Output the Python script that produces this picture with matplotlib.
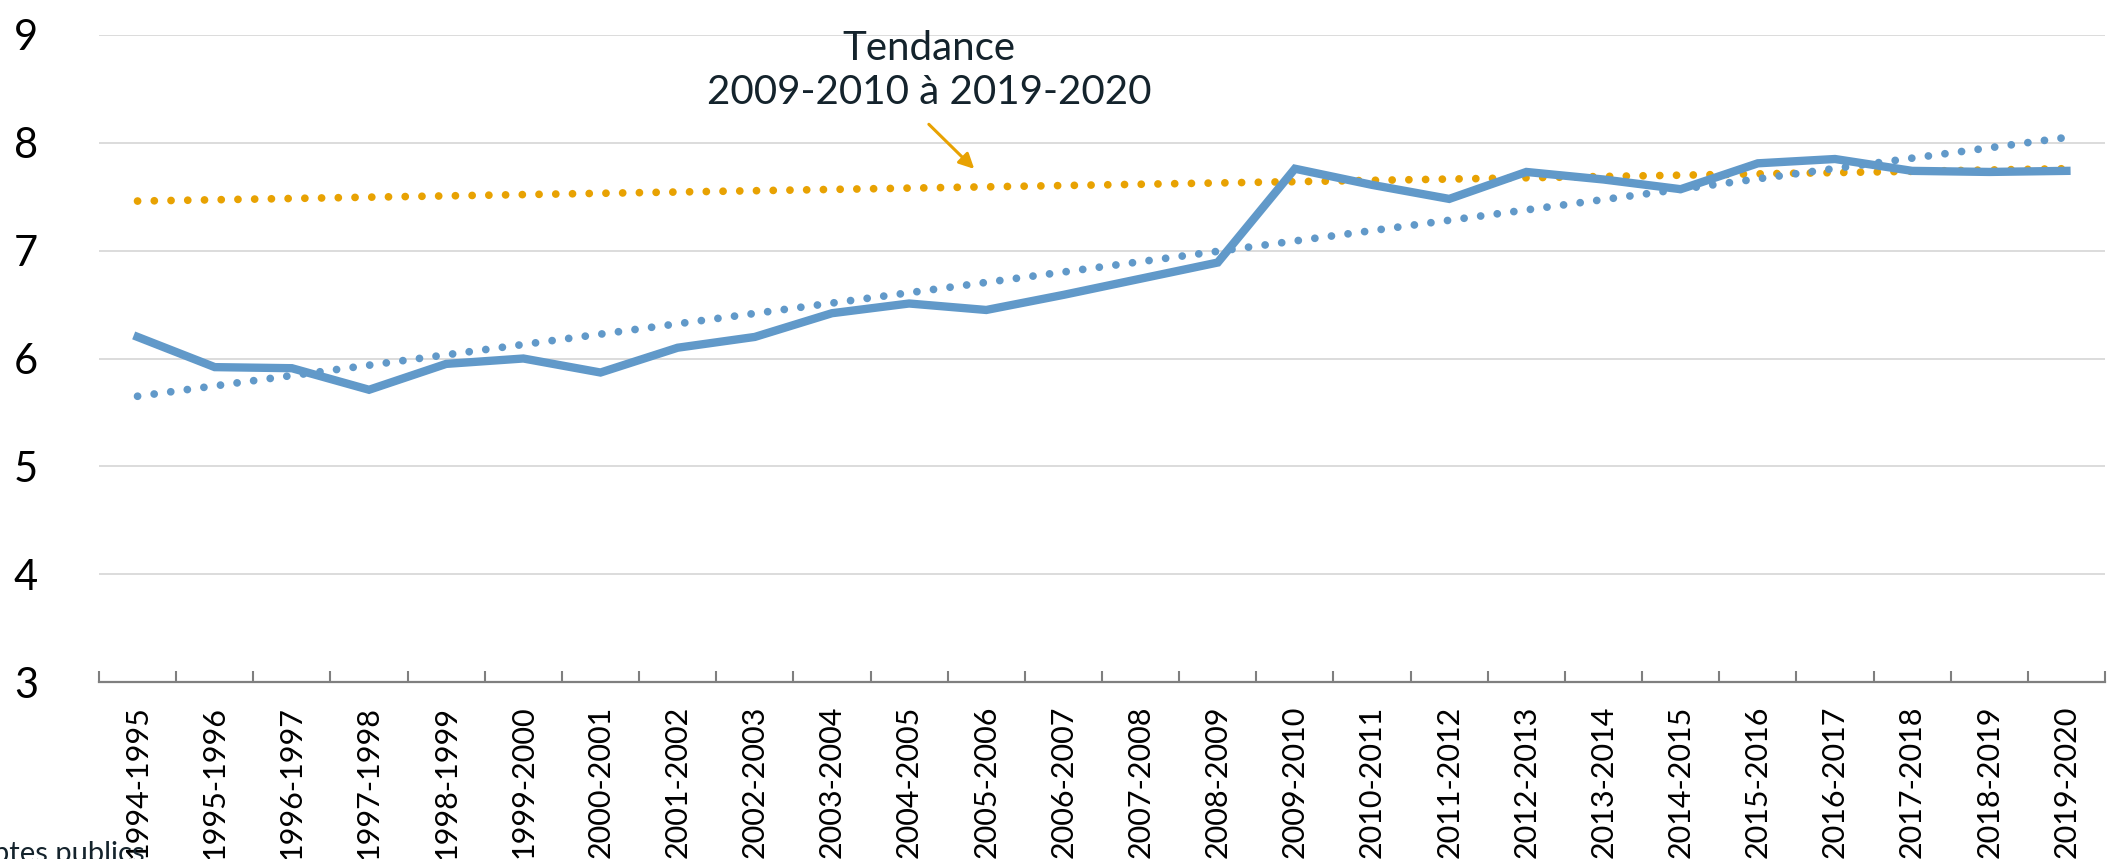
import matplotlib
matplotlib.use('Agg')
import matplotlib.pyplot as plt
from matplotlib.ticker import MultipleLocator, FixedLocator

plt.rcParams['font.family'] = ['Lato', 'DejaVu Sans']

# annees scolaires
annees = ['1994-1995', '1995-1996', '1996-1997', '1997-1998', '1998-1999',
          '1999-2000', '2000-2001', '2001-2002', '2002-2003', '2003-2004',
          '2004-2005', '2005-2006', '2006-2007', '2007-2008', '2008-2009',
          '2009-2010', '2010-2011', '2011-2012', '2012-2013', '2013-2014',
          '2014-2015', '2015-2016', '2016-2017', '2017-2018', '2018-2019',
          '2019-2020']
valeurs = [6.20, 5.92, 5.91, 5.71, 5.95, 6.00, 5.87, 6.10, 6.20, 6.42,
           6.51, 6.45, 6.59, 6.74, 6.89, 7.76, 7.61, 7.48, 7.73, 7.66,
           7.57, 7.81, 7.85, 7.74, 7.73, 7.74]
# droites de tendance (debut / fin)
tend_tout = [5.65, 8.05]
tend_2009 = [7.46, 7.76]

bleu = '#6199C9'
orange = '#E8A202'

fig = plt.figure(figsize=(21.13, 8.59), dpi=100)
ax = fig.add_axes([99/2113, 177/859, (2105-99)/2113, (682-35)/859])

x = list(range(len(annees)))
bouts = [x[0], x[-1]]
ax.plot(bouts, tend_2009, color=orange, lw=5.6, linestyle=(0, (0.001, 2.15)),
        dash_capstyle='round', zorder=3)
ax.plot(bouts, tend_tout, color=bleu, lw=5.6, linestyle=(0, (0.001, 2.15)),
        dash_capstyle='round', zorder=3)
ax.plot(x, valeurs, color=bleu, lw=6, solid_joinstyle='miter', zorder=4)

ax.set_xlim(-0.5, len(annees) - 0.5)
ax.set_ylim(3, 9)
ax.yaxis.set_major_locator(MultipleLocator(1))
ax.grid(axis='y', color='#D9D9D9', lw=1.3, zorder=0)
for s in ['left', 'right', 'top']:
    ax.spines[s].set_visible(False)
ax.spines['bottom'].set_color('#7F7F7F')
ax.spines['bottom'].set_linewidth(1.6)
ax.spines['bottom'].set_zorder(5)

ax.set_xticks(x)
ax.set_xticklabels(annees, rotation=90, fontsize=22)
ax.xaxis.set_minor_locator(FixedLocator([i - 0.5 for i in range(len(annees) + 1)]))
ax.tick_params(axis='x', which='major', length=0, pad=17)
ax.tick_params(axis='x', which='minor', direction='in', length=8,
               width=1.5, color='#7F7F7F')
ax.tick_params(axis='y', length=0, pad=44, labelsize=30)

ax.text(10.26, 8.67, 'Tendance\n2009-2010 à 2019-2020', ha='center', va='center',
        fontsize=29, color='#14232C', linespacing=1.25)
ax.annotate('', xy=(10.87, 7.74), xytext=(10.23, 8.19),
            arrowprops=dict(arrowstyle='-|>,head_length=0.9,head_width=0.45',
                            color=orange, lw=2.2))

# source, coupee au bord comme sur l'original
fig.text(145/2113, -3/859, 'Source : Comptes publics', ha='right', va='baseline',
         fontsize=21, color='#14232C')

fig.savefig('out.png', dpi=100)
